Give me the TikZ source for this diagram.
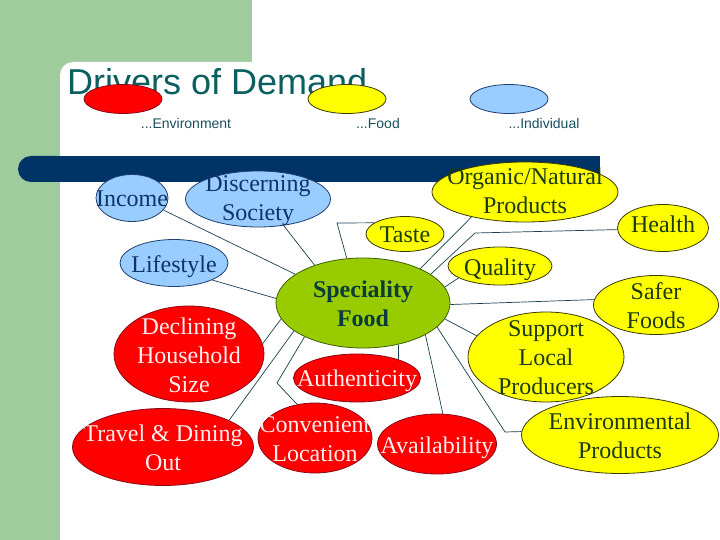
\documentclass[tikz,border=0pt]{standalone}
\usepackage{fontspec}
\setmainfont{Liberation Serif}
\newfontfamily\arialf{Liberation Sans}
\usetikzlibrary{shapes.geometric}
\definecolor{bggreen}{HTML}{9FCC9C}
\definecolor{barblue}{HTML}{003366}
\definecolor{titlecol}{HTML}{0B5F5F}
\definecolor{redf}{HTML}{FF0000}
\definecolor{redd}{HTML}{8B0A1A}
\definecolor{yelf}{HTML}{FFFF00}
\definecolor{yeld}{HTML}{3A3A00}
\definecolor{bluef}{HTML}{99CCFF}
\definecolor{blued}{HTML}{1F3F6F}
\definecolor{grnf}{HTML}{99CC00}
\definecolor{grnd}{HTML}{3F5F00}
\definecolor{linec}{HTML}{1A3F4F}
\definecolor{ytxt}{HTML}{1E3A10}
\definecolor{btxt}{HTML}{0E3468}
\definecolor{rtxt}{HTML}{FFEEEE}
\definecolor{gtxt}{HTML}{0B3B3B}
\definecolor{legtxt}{HTML}{1B4F5F}
\pgfdeclarelayer{bg}
\pgfsetlayers{bg,main}
\begin{document}
\begin{tikzpicture}[x=1pt,y=-1pt,
  ell/.style={ellipse, draw, line width=0.8pt, inner sep=0pt},
  redell/.style={ell, fill=redf, draw=redd},
  yelell/.style={ell, fill=yelf, draw=yeld},
  bluell/.style={ell, fill=bluef, draw=blued},
  grnell/.style={ell, fill=grnf, draw=grnd},
  txt/.style={align=center, font=\fontsize{24}{29}\selectfont, inner sep=0pt},
  rtx/.style={txt, text=rtxt},
  ytx/.style={txt, text=ytxt},
  btx/.style={txt, text=btxt},
  gtx/.style={txt, text=gtxt, font=\fontsize{24}{29}\selectfont\bfseries},
  legtx/.style={font=\arialf\fontsize{14}{16}\selectfont, text=legtxt, inner sep=0pt},
  conn/.style={draw=linec, line width=0.7pt}
]
\useasboundingbox (0,0) rectangle (720,540);
% background
\begin{pgfonlayer}{bg}
\fill[white] (0,0) rectangle (720,540);
\fill[bggreen] (0,0) rectangle (252,540);
\fill[white, rounded corners=13] (60,62) rectangle (760,580);
\fill[barblue, rounded corners=13] (18,156) rectangle (70,182);
\fill[barblue] (40,156) rectangle (600,182);
\end{pgfonlayer}

% title and legend
\node[anchor=base west, inner sep=0pt, text=titlecol, font=\arialf\fontsize{36}{40}\selectfont] (title) at (67,95) {Drivers of Demand};
\node[redell, minimum width=78, minimum height=29] (legr) at (123,99) {};
\node[yelell, minimum width=78, minimum height=29] (legy) at (347,99) {};
\node[bluell, minimum width=78, minimum height=29] (legb) at (509,99) {};
\node[legtx] (legrt) at (186,123) {...Environment};
\node[legtx] (legyt) at (378,123) {...Food};
\node[legtx] (legbt) at (544,123) {...Individual};

% nodes (yshift is in canvas points: negative moves down)
\node[bluell, minimum width=72, minimum height=47] (income) at (132,198) {};
\node[btx] (income-t) at ([yshift=-1]income) {Income};
\node[bluell, minimum width=145, minimum height=56] (disc) at (258,199) {};
\node[btx] (disc-t) at ([yshift=-2]disc) {Discerning\\Society};
\node[bluell, minimum width=108, minimum height=47] (life) at (174,263) {};
\node[btx] (life-t) at ([yshift=-4]life) {Lifestyle};

\node[yelell, minimum width=186, minimum height=60] (org) at (525,192) {};
\node[ytx] (org-t) at ([yshift=1]org) {Organic/Natural\\Products};
\node[yelell, minimum width=91, minimum height=47] (health) at (663,228) {};
\node[ytx] (health-t) at ([yshift=4]health) {Health};
\node[yelell, minimum width=78, minimum height=35] (taste) at (405,234) {};
\node[ytx] (taste-t) at ([yshift=-1]taste) {Taste};
\node[yelell, minimum width=104, minimum height=38] (qual) at (500,266) {};
\node[ytx] (qual-t) at ([yshift=-4]qual) {Quality};
\node[yelell, minimum width=125, minimum height=59] (safer) at (656,305) {};
\node[ytx] (safer-t) at ([yshift=-1]safer) {Safer\\Foods};
\node[yelell, minimum width=197, minimum height=77] (env) at (620,435) {};
\node[ytx] (env-t) at ([yshift=-1]env) {Environmental\\Products};
\node[yelell, minimum width=156, minimum height=90] (supp) at (546,357) {};
\node[ytx] (supp-t) at ([yshift=-1]supp) {Support\\Local\\Producers};

\node[grnell, minimum width=174, minimum height=90] (spec) at (363,303) {};
\node[gtx] (spec-t) at ([yshift=-1]spec) {Speciality\\Food};

\node[redell, minimum width=127, minimum height=48] (auth) at (357,378) {};
\node[rtx] (auth-t) at ([yshift=-3]auth) {Authenticity};
\node[redell, minimum width=150, minimum height=96] (decl) at (189,354) {};
\node[rtx] (decl-t) at ([yshift=-1]decl) {Declining\\Household\\Size};
\node[redell, minimum width=181, minimum height=77] (travel) at (163,447) {};
\node[rtx] (travel-t) at ([yshift=-1]travel) {Travel \& Dining\\Out};
\node[redell, minimum width=114, minimum height=70] (conv) at (315,438) {};
\node[rtx] (conv-t) at ([yshift=-1]conv) {Convenient\\Location};
\node[redell, minimum width=119, minimum height=60] (avail) at (437,444) {};
\node[rtx] (avail-t) at ([yshift=-4]avail) {Availability};

% elbow corners
\coordinate (tasteK) at (337,223);
\coordinate (healthK) at (475,233);
\coordinate (envK) at (505,432);
\coordinate (convK) at (277,383);

% connectors
\begin{pgfonlayer}{bg}
\draw[conn] (spec.157) -- (income.-21);
\draw[conn] (spec.142) -- (disc.-46);
\draw[conn] (spec.177) -- (life.-24);
\draw[conn] (spec.110) -- (tasteK) -- (taste.160);
\draw[conn] (spec.31) -- (org.205);
\draw[conn] (spec.23) -- (healthK) -- (health.182);
\draw[conn] (spec.11) -- (qual.196);
\draw[conn] (spec.-1) -- (safer.175);
\draw[conn] (spec.-11) -- (supp.163);
\draw[conn] (spec.-18) -- (envK) -- (env.178);
\draw[conn] (spec.-27) -- (avail.79);
\draw[conn] (spec.-50) -- (spec.-50 |- auth.center);
\draw[conn] (spec.210) -- (convK) -- (conv.118);
\draw[conn] (spec.202) -- (travel.22);
\draw[conn] (spec.191) -- (decl.8);
\end{pgfonlayer}
\end{tikzpicture}
\end{document}
